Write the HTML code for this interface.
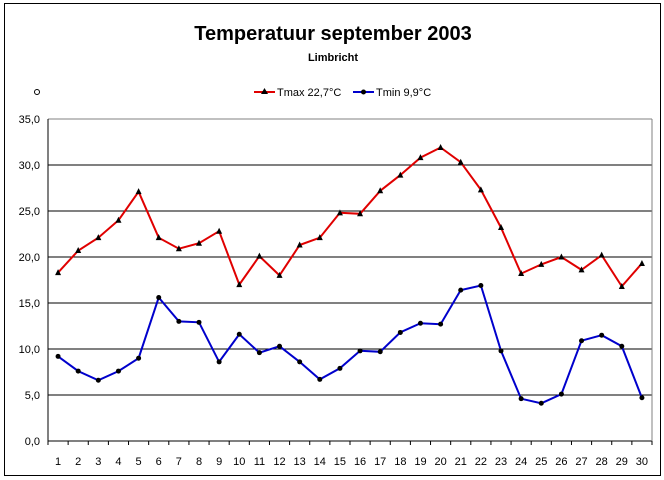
<!DOCTYPE html><html><head><meta charset="utf-8"><style>body{margin:0;background:#fff}svg{display:block}text{font-family:"Liberation Sans",Arial,sans-serif}</style></head><body>
<svg id="s" width="664" height="480" xmlns="http://www.w3.org/2000/svg">
<rect x="4.5" y="3.5" width="656" height="472" fill="#fff" stroke="#000"/>
<text x="333" y="40" text-anchor="middle" font-size="20" font-weight="bold">Temperatuur september 2003</text>
<text x="333" y="61" text-anchor="middle" font-size="11" font-weight="bold">Limbricht</text>
<circle cx="37" cy="92" r="2.5" fill="none" stroke="#000"/>
<line x1="254" y1="92" x2="275" y2="92" stroke="#e00000" stroke-width="2"/><polygon points="264.5,88 268,94 261,94" fill="#000"/>
<text x="277" y="96" font-size="11">Tmax 22,7°C</text>
<line x1="353" y1="92" x2="374" y2="92" stroke="#0000cc" stroke-width="2"/><circle cx="363.5" cy="92" r="2.5" fill="#000"/>
<text x="376" y="96" font-size="11">Tmin 9,9°C</text>
<g id="g"></g>
</svg>
<script>
var g=document.getElementById('g'),h='';
var L=48,R=652,T=119,B=441,cw=(R-L)/30;
function y(v){return B-(v/35)*(B-T);}
for(var i=0;i<=7;i++){var yy=T+i*46;h+='<line x1="'+L+'" y1="'+yy+'" x2="'+R+'" y2="'+yy+'" stroke="'+(i==0?'#808080':'#000')+'"/>';
h+='<text x="'+(L-8)+'" y="'+(yy+4)+'" text-anchor="end" font-size="11">'+((7-i)*5)+',0</text>';}
h+='<line x1="'+L+'" y1="'+T+'" x2="'+L+'" y2="'+B+'" stroke="#000"/><line x1="'+R+'" y1="'+T+'" x2="'+R+'" y2="'+B+'" stroke="#808080"/>';
for(var i=0;i<=30;i++){var xx=L+i*cw;h+='<line x1="'+xx+'" y1="'+B+'" x2="'+xx+'" y2="'+(B+4)+'" stroke="#000"/>';
if(i<30)h+='<text x="'+(xx+cw/2)+'" y="'+(B+24)+'" text-anchor="middle" font-size="11">'+(i+1)+'</text>';}
var mx=[18.3,20.7,22.1,24.0,27.1,22.1,20.9,21.5,22.8,17.0,20.1,18.0,21.3,22.1,24.8,24.7,27.2,28.9,30.8,31.9,30.3,27.3,23.2,18.2,19.2,20.0,18.6,20.2,16.8,19.3];
var mn=[9.2,7.6,6.6,7.6,9.0,15.6,13.0,12.9,8.6,11.6,9.6,10.3,8.6,6.7,7.9,9.8,9.7,11.8,12.8,12.7,16.4,16.9,9.8,4.6,4.1,5.1,10.9,11.5,10.3,4.7];
function poly(d,c){var p=d.map(function(v,i){return (L+cw*(i+.5)).toFixed(1)+','+y(v).toFixed(1)}).join(' ');return '<polyline points="'+p+'" fill="none" stroke="'+c+'" stroke-width="2"/>';}
h+=poly(mx,'#e00000')+poly(mn,'#0000cc');
mx.forEach(function(v,i){var x=L+cw*(i+.5),yy=y(v);h+='<polygon points="'+x+','+(yy-3.5)+' '+(x+3)+','+(yy+2.5)+' '+(x-3)+','+(yy+2.5)+'" fill="#000"/>';});
mn.forEach(function(v,i){h+='<circle cx="'+(L+cw*(i+.5))+'" cy="'+y(v)+'" r="2.5" fill="#000"/>';});
g.innerHTML=h;
</script></body></html>
